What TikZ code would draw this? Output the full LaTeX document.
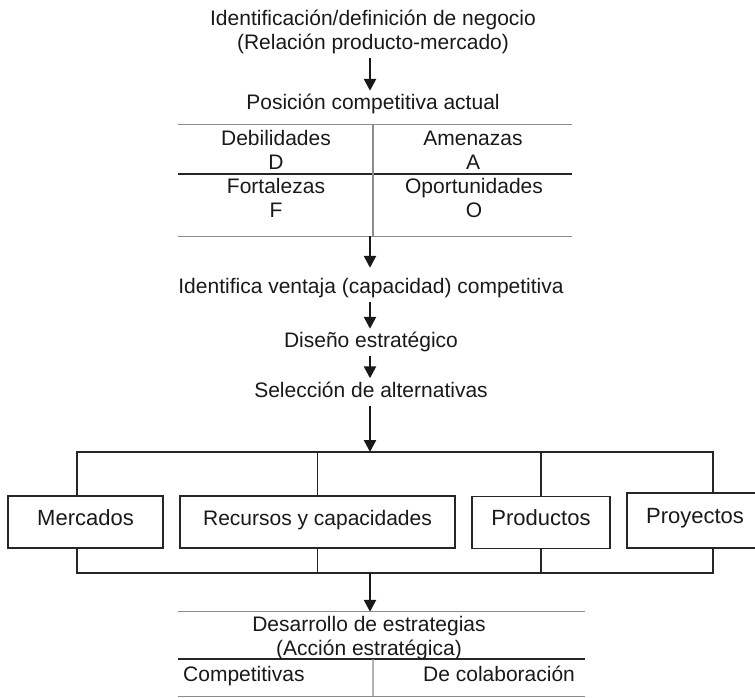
\documentclass[tikz,border=0pt]{standalone}
\usepackage{fontspec}
\setmainfont{Liberation Sans}
\usetikzlibrary{calc,arrows.meta}

\begin{document}
\begin{tikzpicture}[x=1pt,y=-1pt,
  texto/.style={font=\fontsize{21}{24}\selectfont,text=black!90,inner xsep=0pt,inner ysep=4pt,text height=14.5pt,text depth=4.5pt,anchor=base},
  celda/.style={font=\fontsize{21}{24}\selectfont,text=black!90,align=center,inner sep=0pt,anchor=south},
  caja/.style={draw=black!85,line width=1.2pt,font=\fontsize{22}{26}\selectfont,text=black!90,minimum height=52pt,text height=16pt,text depth=10pt,inner sep=0pt},
  flecha/.style={-{Triangle[width=12pt,length=12pt]},line width=2.5pt,black!90},
  linea/.style={black!85,line width=1.2pt},
  borde/.style={black!45,line width=1.2pt}]
\clip (0,0) rectangle (755,697);
\coordinate (eje) at (370,0);
\node[celda,inner ysep=4pt] (titulo) at (373,58) {Identificación/definición de negocio\\(Relación producto-mercado)};
\node[texto] (posicion) at (373,109.5) {Posición competitiva actual};
\draw[flecha] (titulo.south -| eje) -- (posicion.north -| eje);
\node[minimum width=394pt,minimum height=111pt,inner sep=0pt] (swot) at (375,180.5) {};
\draw[borde] (swot.north west) -- (swot.north east);
\draw[linea] ($(swot.north west)!.441!(swot.south west)$) -- ($(swot.north east)!.441!(swot.south east)$);
\draw[borde] (swot.south west) -- (swot.south east);
\draw[borde] ($(swot.north west)!.495!(swot.north east)$) -- ($(swot.south west)!.495!(swot.south east)$);
\node[celda] (debil) at (276,169.5) {Debilidades\\D};
\node[celda] (amen) at (473,169.5) {Amenazas\\A};
\node[celda] (fort) at (276,217.5) {Fortalezas\\F};
\node[celda] (oport) at (474,217.5) {Oportunidades\\O};
\node[texto] (ventaja) at (371,293.5) {Identifica ventaja (capacidad) competitiva};
\node[texto] (diseno) at (371,347.5) {Diseño estratégico};
\node[texto] (seleccion) at (371,397) {Selección de alternativas};
\draw[flecha,shorten >=7pt] (swot.south -| eje) -- (ventaja.north -| eje);
\draw[flecha] (ventaja.south -| eje) -- (diseno.north -| eje);
\draw[flecha] (diseno.south -| eje) -- (seleccion.north -| eje);
\node[caja,minimum width=155pt] (mercados) at (85.5,522) {Mercados};
\node[caja,minimum width=275pt,font=\fontsize{21}{24}\selectfont] (recursos) at (317.5,522) {Recursos y capacidades};
\node[caja,minimum width=138pt] (productos) at (541,522.5) {Productos};
\node[caja,minimum width=136pt,minimum height=55pt] (proyectos) at (695,520.5) {Proyectos};
\coordinate (ramaarriba) at (370,452);
\coordinate (ramaabajo) at (370,573);
\coordinate (ramaizq) at ($(mercados.north)+(-8.5,0)$);
\coordinate (ramader) at ($(proyectos.north)+(18,0)$);
\coordinate (ramaizqabajo) at ($(mercados.south)+(-8.5,0)$);
\coordinate (ramaderabajo) at ($(proyectos.south)+(18,0)$);
\draw[flecha] (seleccion.south -| eje) -- (ramaarriba);
\draw[linea] (ramaizq) |- (ramader |- ramaarriba) -- (ramader);
\draw[linea] (recursos.north) -- (recursos.north |- ramaarriba);
\draw[linea] (productos.north) -- (productos.north |- ramaarriba);
\draw[linea] (ramaizqabajo) |- (ramaderabajo |- ramaabajo) -- (ramaderabajo);
\draw[linea] (recursos.south) -- (recursos.south |- ramaabajo);
\draw[linea] (productos.south) -- (productos.south |- ramaabajo);
\node[minimum width=407pt,minimum height=84pt,inner sep=0pt] (estrategias) at (381.5,654) {};
\coordinate (medioizq) at ($(estrategias.north west)!.56!(estrategias.south west)$);
\coordinate (medioder) at ($(estrategias.north east)!.56!(estrategias.south east)$);
\draw[flecha] (ramaabajo) -- (estrategias.north -| eje);
\draw[borde] (estrategias.north west) -- (estrategias.north east);
\draw[linea] (medioizq) -- (medioder);
\draw[borde] (estrategias.south west) -- (estrategias.south east);
\draw[borde] ($(medioizq)!.479!(medioder)$) -- ($(estrategias.south west)!.479!(estrategias.south east)$);
\node[celda] (desarrollo) at (369,660.5) {Desarrollo de estrategias\\(Acción estratégica)};
\node[texto,anchor=base west] (compet) at (183,681) {Competitivas};
\node[texto,anchor=base west] (colab) at (423,681) {De colaboración};
\end{tikzpicture}
\end{document}
